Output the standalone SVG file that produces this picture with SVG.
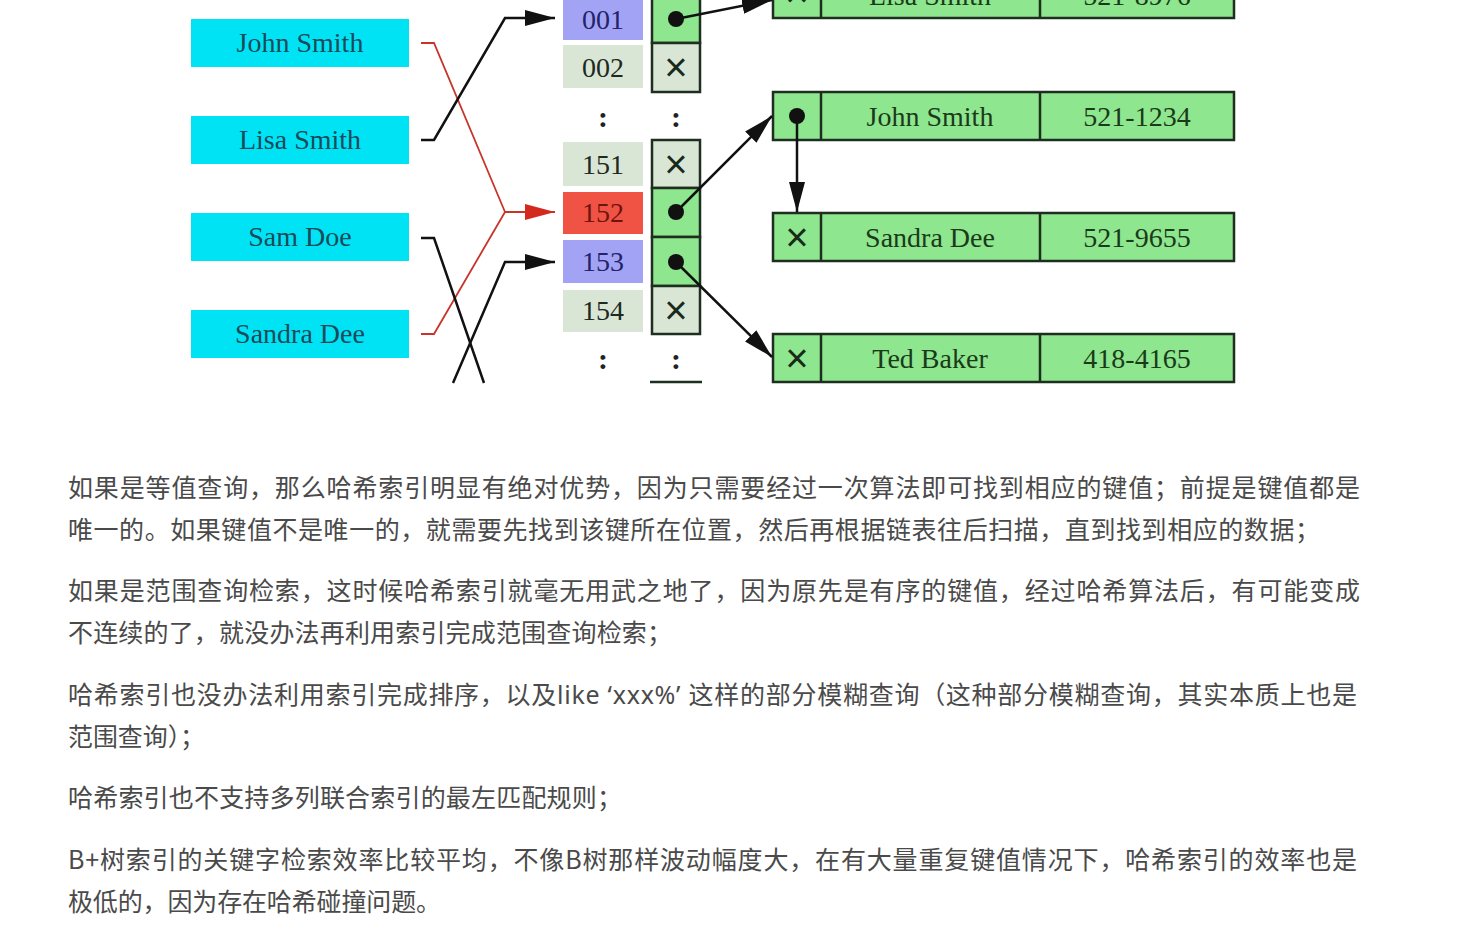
<svg xmlns="http://www.w3.org/2000/svg" width="1474" height="940" viewBox="0 0 1474 940">
<defs>
<style>
.key{fill:#00e3f5}
.keyt{font-family:"Liberation Serif",serif;font-size:28px;fill:#1b4a5a;text-anchor:middle}
.num{font-family:"Liberation Serif",serif;font-size:28px;text-anchor:middle}
.cell{stroke:#1f2f1f;stroke-width:2.5}
.g{fill:#8ee68e}
.gr{fill:#d9e6d6}
.rect{font-family:"Liberation Serif",serif;font-size:28px;fill:#1a3a1a;text-anchor:middle}
.x{font-family:"Liberation Sans",sans-serif;font-size:40px;fill:#1a2a1a;text-anchor:middle}
.dots{font-family:"Liberation Serif",serif;font-size:30px;font-weight:bold;fill:#222;text-anchor:middle}
.ln{fill:none;stroke:#111;stroke-width:2.5}
.lr{fill:none;stroke:#c8342a;stroke-width:1.8}
.p{font-family:"Noto Sans CJK SC","Noto Sans",sans-serif;font-size:25px;fill:#4a4a4a}
.lat{font-family:"Noto Sans",sans-serif}
</style>
<marker id="ab" viewBox="0 0 30 16" refX="30" refY="8" markerWidth="30" markerHeight="16" markerUnits="userSpaceOnUse" orient="auto"><path d="M0,0 L30,8 L0,16 Z" fill="#111"/></marker>
<marker id="ar" viewBox="0 0 30 16" refX="30" refY="8" markerWidth="30" markerHeight="16" markerUnits="userSpaceOnUse" orient="auto"><path d="M0,0 L30,8 L0,16 Z" fill="#d42a1e"/></marker>
</defs>
<rect width="1474" height="940" fill="#fff"/>

<g id="key-john"><rect class="key" x="191" y="19" width="218" height="48"/><text class="keyt" x="300" y="52">John Smith</text></g>
<g id="key-lisa"><rect class="key" x="191" y="116" width="218" height="48"/><text class="keyt" x="300" y="149">Lisa Smith</text></g>
<g id="key-sam"><rect class="key" x="191" y="213" width="218" height="48"/><text class="keyt" x="300" y="246">Sam Doe</text></g>
<g id="key-sandra"><rect class="key" x="191" y="310" width="218" height="48"/><text class="keyt" x="300" y="343">Sandra Dee</text></g>

<g id="bucket-001"><rect x="563" y="0" width="80" height="40" fill="#a3a3f5"/><text class="num" x="603" y="29" fill="#23236a">001</text>
<rect class="cell g" x="652" y="-6" width="48" height="49"/><circle cx="676" cy="19" r="8" fill="#111"/></g>
<g id="bucket-002"><rect x="563" y="45" width="80" height="43" fill="#d9e6d6"/><text class="num" x="603" y="77" fill="#1e2a1e">002</text>
<rect class="cell gr" x="652" y="43" width="48" height="49"/><text class="x" x="676" y="81">×</text></g>
<g id="bucket-gap1"><text class="dots" x="603" y="127">:</text><text class="dots" x="676" y="127">:</text></g>
<g id="bucket-151"><rect x="563" y="142" width="80" height="44" fill="#d9e6d6"/><text class="num" x="603" y="174" fill="#1e2a1e">151</text>
<rect class="cell gr" x="652" y="140" width="48" height="48"/><text class="x" x="676" y="178">×</text></g>
<g id="bucket-152"><rect x="563" y="192" width="80" height="42" fill="#f05343"/><text class="num" x="603" y="222" fill="#6e1410">152</text>
<rect class="cell g" x="652" y="188" width="48" height="49"/><circle cx="676" cy="212" r="8" fill="#111"/></g>
<g id="bucket-153"><rect x="563" y="240" width="80" height="43" fill="#a3a3f5"/><text class="num" x="603" y="271" fill="#23236a">153</text>
<rect class="cell g" x="652" y="237" width="48" height="49"/><circle cx="676" cy="262" r="8" fill="#111"/></g>
<g id="bucket-154"><rect x="563" y="290" width="80" height="42" fill="#d9e6d6"/><text class="num" x="603" y="320" fill="#1e2a1e">154</text>
<rect class="cell gr" x="652" y="286" width="48" height="48"/><text class="x" x="676" y="324">×</text></g>
<g id="bucket-gap2"><text class="dots" x="603" y="369">:</text><text class="dots" x="676" y="369">:</text><line x1="650" y1="382" x2="702" y2="382" stroke="#1f2f1f" stroke-width="2.5"/></g>

<g id="rec-lisa"><rect class="cell g" x="773" y="-30" width="461" height="48"/><line class="cell" x1="821" y1="-30" x2="821" y2="18"/><line class="cell" x1="1040" y1="-30" x2="1040" y2="18"/>
<text class="x" x="797" y="7">×</text><text class="rect" x="930" y="5">Lisa Smith</text><text class="rect" x="1137" y="5">521-8976</text></g>
<g id="rec-john"><rect class="cell g" x="773" y="92" width="461" height="48"/><line class="cell" x1="821" y1="92" x2="821" y2="140"/><line class="cell" x1="1040" y1="92" x2="1040" y2="140"/>
<circle cx="797" cy="116" r="8" fill="#111"/><text class="rect" x="930" y="126">John Smith</text><text class="rect" x="1137" y="126">521-1234</text></g>
<g id="rec-sandra"><rect class="cell g" x="773" y="213" width="461" height="48"/><line class="cell" x1="821" y1="213" x2="821" y2="261"/><line class="cell" x1="1040" y1="213" x2="1040" y2="261"/>
<text class="x" x="797" y="251">×</text><text class="rect" x="930" y="247">Sandra Dee</text><text class="rect" x="1137" y="247">521-9655</text></g>
<g id="rec-ted"><rect class="cell g" x="773" y="334" width="461" height="48"/><line class="cell" x1="821" y1="334" x2="821" y2="382"/><line class="cell" x1="1040" y1="334" x2="1040" y2="382"/>
<text class="x" x="797" y="372">×</text><text class="rect" x="930" y="368">Ted Baker</text><text class="rect" x="1137" y="368">418-4165</text></g>

<g id="connectors">
<polyline class="lr" points="421,43 434,43 505,212"/>
<polyline class="lr" points="421,334 434,334 505,212"/>
<line x1="505" y1="212" x2="555" y2="212" class="lr" marker-end="url(#ar)"/>
<polyline class="ln" points="421,140 434,140 505,18 555,18" marker-end="url(#ab)"/>
<polyline class="ln" points="421,238 434,238 484,383"/>
<polyline class="ln" points="453,383 505,262 555,262" marker-end="url(#ab)"/>
<line class="ln" x1="676" y1="19" x2="772" y2="0" marker-end="url(#ab)"/>
<line class="ln" x1="676" y1="212" x2="772" y2="116" marker-end="url(#ab)"/>
<line class="ln" x1="797" y1="116" x2="797" y2="212" marker-end="url(#ab)"/>
<line class="ln" x1="676" y1="262" x2="772" y2="357" marker-end="url(#ab)"/>
</g>

<g id="text">
<text class="p" x="68" y="497" textLength="1292" lengthAdjust="spacing">如果是等值查询，那么哈希索引明显有绝对优势，因为只需要经过一次算法即可找到相应的键值；前提是键值都是</text>
<text class="p" x="68" y="539" textLength="1252" lengthAdjust="spacing">唯一的。如果键值不是唯一的，就需要先找到该键所在位置，然后再根据链表往后扫描，直到找到相应的数据；</text>
<text class="p" x="68" y="600" textLength="1292" lengthAdjust="spacing">如果是范围查询检索，这时候哈希索引就毫无用武之地了，因为原先是有序的键值，经过哈希算法后，有可能变成</text>
<text class="p" x="68" y="642" textLength="604" lengthAdjust="spacing">不连续的了，就没办法再利用索引完成范围查询检索；</text>
<text class="p" x="68" y="704" textLength="1289" lengthAdjust="spacing">哈希索引也没办法利用索引完成排序，以及<tspan class="lat">like ‘xxx%’ </tspan>这样的部分模糊查询（这种部分模糊查询，其实本质上也是</text>
<text class="p" x="68" y="746" textLength="137" lengthAdjust="spacingAndGlyphs">范围查询）；</text>
<text class="p" x="68" y="807" textLength="554" lengthAdjust="spacing">哈希索引也不支持多列联合索引的最左匹配规则；</text>
<text class="p" x="68" y="869" textLength="1289" lengthAdjust="spacing">B+树索引的关键字检索效率比较平均，不像B树那样波动幅度大，在有大量重复键值情况下，哈希索引的效率也是</text>
<text class="p" x="68" y="911" textLength="373" lengthAdjust="spacing">极低的，因为存在哈希碰撞问题。</text>
</g>
</svg>
